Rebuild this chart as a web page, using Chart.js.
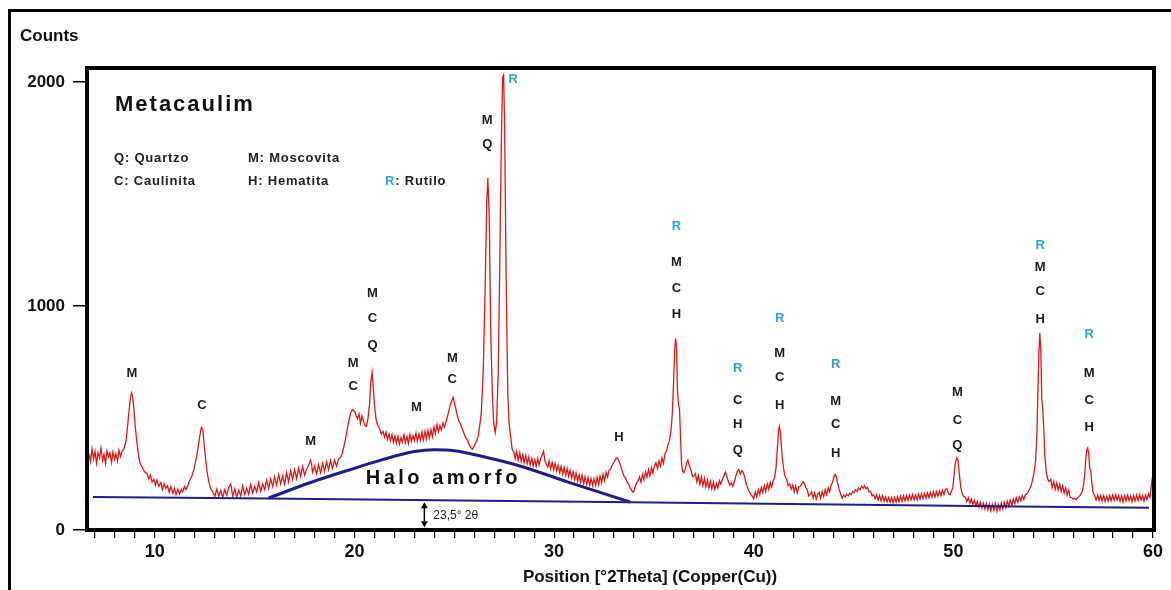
<!DOCTYPE html>
<html lang="pt">
<head>
<meta charset="UTF-8">
<title>Metacaulim - DRX</title>
<script src="https://cdn.jsdelivr.net/npm/chart.js"></script>
<style>
  html, body { margin: 0; padding: 0; background: #fff; overflow: hidden; }
  #moldura { position: absolute; left: 8px; top: 9px; width: 1400px; height: 800px; border: 3px solid #000; }
  #grafico { position: absolute; left: 0; top: 0; }
</style>
</head>
<body>
<div id="moldura"></div>
<canvas id="grafico" width="1171" height="590"></canvas>
<script>
const scanA = [[6.7,340],[6.78,305],[6.85,362],[6.93,318],[7.0,350],[7.08,298],[7.15,345],[7.23,322],[7.3,366],[7.38,310],[7.45,338],[7.53,296],[7.6,352],[7.68,326],[7.75,344],[7.83,302],[7.9,348],[7.98,315],[8.05,341],[8.13,308],[8.2,356],[8.28,328],[8.35,350],[8.45,362],[8.55,395],[8.62,450],[8.7,530],[8.77,585],[8.83,612],[8.88,600],[8.95,540],[9.02,460],[9.1,390],[9.18,335],[9.25,300],[9.33,285],[9.42,270],[9.5,258],[9.6,252],[9.7,228],[9.78,246],[9.86,214],[9.95,226],[10.03,200],[10.1,224],[10.2,195],[10.3,212],[10.38,180],[10.46,206],[10.55,186],[10.63,198],[10.72,168],[10.8,194],[10.9,164],[10.98,186],[11.06,158],[11.15,182],[11.24,160],[11.32,180],[11.4,170],[11.48,194],[11.56,180],[11.65,198],[11.75,222],[11.85,240],[11.95,268],[12.05,310],[12.15,360],[12.25,420],[12.33,458],[12.4,448],[12.47,380],[12.55,310],[12.63,250],[12.72,208],[12.8,184],[12.9,170]];
const scanB = [[13.0,150],[13.1,182],[13.2,152],[13.3,176],[13.4,146],[13.5,180],[13.6,155],[13.7,190],[13.8,205],[13.9,150],[14.0,184],[14.1,148],[14.2,178],[14.3,152],[14.4,196],[14.5,158],[14.6,186],[14.7,160],[14.8,204],[14.9,165],[15.0,195],[15.1,170],[15.2,212],[15.3,174],[15.4,206],[15.5,180],[15.6,222],[15.7,186],[15.8,228],[15.9,194],[16.0,236],[16.1,200],[16.2,248],[16.3,206],[16.4,242],[16.5,204],[16.6,256],[16.7,215],[16.8,265],[16.9,226],[17.0,270],[17.1,230],[17.2,276],[17.3,238],[17.4,284],[17.5,245],[17.6,270],[17.7,290],[17.8,312],[17.85,292],[17.9,258],[18.0,284],[18.1,250],[18.2,292],[18.3,255],[18.4,298],[18.5,262],[18.6,305],[18.7,270],[18.8,310],[18.9,275],[19.0,312],[19.1,285],[19.2,318],[19.3,322],[19.4,345],[19.5,385],[19.6,430],[19.7,480],[19.8,520],[19.9,538]];
const scanC = [[20.0,530],[20.08,512],[20.15,496],[20.23,518],[20.3,476],[20.38,508],[20.45,486],[20.53,466],[20.6,462],[20.68,500],[20.75,560],[20.82,660],[20.88,702],[20.94,640],[21.0,560],[21.07,500],[21.13,475],[21.2,462],[21.28,446],[21.35,428],[21.43,440],[21.5,415],[21.58,436],[21.65,404],[21.73,428],[21.8,398],[21.88,425],[21.95,392],[22.03,420],[22.1,388],[22.18,418],[22.25,384],[22.33,412],[22.4,392],[22.48,425],[22.55,390],[22.63,418],[22.7,386],[22.78,426],[22.85,396],[22.93,420],[23.0,398],[23.08,432],[23.15,396],[23.23,428],[23.3,400],[23.38,436],[23.45,402],[23.53,440],[23.6,406],[23.68,444],[23.75,410],[23.83,448],[23.9,416],[23.98,460],[24.05,430],[24.13,470],[24.2,438],[24.28,466],[24.35,446],[24.43,478],[24.5,458],[24.58,482],[24.65,505],[24.73,532],[24.8,560],[24.87,575],[24.94,592],[25.0,570],[25.08,540],[25.15,510],[25.23,488],[25.3,475],[25.38,455],[25.45,440],[25.53,420],[25.6,408],[25.68,398],[25.75,380],[25.83,368],[25.9,360],[25.97,370],[26.05,385],[26.13,400],[26.2,420],[26.28,470],[26.35,520]];
const scanD = [[26.45,714],[26.55,1100],[26.62,1450],[26.68,1571],[26.75,1400],[26.82,900],[26.9,620],[26.97,480],[27.05,435],[27.12,480],[27.2,700],[27.28,1200],[27.35,1700],[27.42,2020],[27.47,2031],[27.52,1800],[27.6,1100],[27.68,600],[27.75,470],[27.83,410],[27.9,360],[27.97,350],[28.05,318],[28.12,352],[28.2,312],[28.28,345],[28.35,306],[28.43,336],[28.5,300],[28.58,332],[28.65,296],[28.73,326],[28.8,290],[28.88,320],[28.95,286],[29.03,314],[29.1,284],[29.18,318],[29.25,290],[29.33,322],[29.4,335],[29.47,352],[29.53,312],[29.6,296],[29.68,280],[29.75,308],[29.83,272],[29.9,302],[29.98,268],[30.05,296],[30.13,262],[30.2,290],[30.28,256],[30.35,284],[30.43,250],[30.5,280],[30.58,244],[30.65,274],[30.73,238],[30.8,266],[30.88,232],[30.95,260],[31.03,224],[31.1,254],[31.18,218],[31.25,246],[31.33,212],[31.4,244],[31.48,206],[31.55,238],[31.63,204],[31.7,234],[31.78,200],[31.85,230],[31.93,198],[32.0,228],[32.08,200],[32.15,234],[32.23,202],[32.3,240],[32.38,212],[32.45,248],[32.53,220],[32.6,258],[32.68,236],[32.75,268],[32.83,270],[32.9,288],[32.98,300],[33.05,312],[33.12,322],[33.2,318],[33.28,300],[33.35,280],[33.43,258],[33.5,240],[33.58,232],[33.65,215],[33.73,205],[33.8,190],[33.88,178],[33.95,168],[34.0,172]];
const scanE = [[34.05,190],[34.12,208],[34.2,218],[34.28,238],[34.35,214],[34.43,248],[34.5,224],[34.58,260],[34.65,236],[34.73,270],[34.8,242],[34.88,278],[34.95,254],[35.03,288],[35.1,300],[35.18,274],[35.25,308],[35.33,284],[35.4,322],[35.48,298],[35.55,338],[35.63,352],[35.7,380],[35.78,400],[35.85,440],[35.92,520],[35.98,650],[36.03,790],[36.08,855],[36.13,820],[36.18,620],[36.23,560],[36.28,540],[36.33,420],[36.38,300],[36.43,262],[36.5,255],[36.58,275],[36.65,300],[36.7,312],[36.78,285],[36.85,270],[36.93,238],[37.0,240],[37.08,252],[37.15,214],[37.23,244],[37.3,204],[37.38,236],[37.45,198],[37.53,230],[37.6,192],[37.68,222],[37.75,188],[37.83,218],[37.9,184],[37.98,212],[38.05,182],[38.13,208],[38.2,188],[38.28,220],[38.35,205],[38.43,225],[38.5,240],[38.58,258],[38.65,240],[38.73,215],[38.8,200],[38.88,210],[38.95,195],[39.03,215],[39.1,240],[39.18,262],[39.25,270],[39.32,250],[39.4,265],[39.47,258],[39.55,235],[39.62,205],[39.7,185],[39.78,170],[39.85,160],[39.93,150],[40.0,140],[40.08,170],[40.15,148],[40.23,180],[40.3,158],[40.38,190],[40.45,168],[40.53,198],[40.6,172],[40.68,206],[40.75,182],[40.83,212],[40.9,192],[40.98,222],[41.05,235],[41.12,280],[41.18,360],[41.23,430],[41.28,462],[41.33,440],[41.38,380],[41.43,320],[41.5,270],[41.57,240],[41.65,226],[41.72,198],[41.8,206],[41.88,182],[41.95,200],[42.03,170],[42.1,196],[42.18,166],[42.25,192],[42.33,195],[42.4,205],[42.47,215],[42.53,210],[42.6,190],[42.68,180],[42.75,152],[42.83,160],[42.9,170],[42.98,142],[43.05,166],[43.13,138],[43.2,160],[43.28,168],[43.35,142],[43.43,172],[43.5,150],[43.58,180],[43.65,158],[43.73,188],[43.8,170],[43.88,200],[43.95,215],[44.02,238],[44.08,248],[44.13,240],[44.2,212],[44.28,180],[44.35,162],[44.43,142],[44.5,156],[44.58,148],[44.65,160],[44.73,152],[44.8,164],[44.88,158],[44.95,172],[45.03,166],[45.1,180],[45.18,172],[45.25,188],[45.33,180],[45.4,196],[45.48,186],[45.55,198],[45.63,184],[45.7,190],[45.78,170],[45.85,172],[45.93,152],[46.0,158]];
const scanF = [[46.08,140],[46.15,158],[46.23,134],[46.3,154],[46.38,130],[46.45,152],[46.53,128],[46.6,148],[46.68,126],[46.75,146],[46.83,124],[46.9,144],[46.98,122],[47.05,146],[47.13,124],[47.2,148],[47.28,126],[47.35,151],[47.43,128],[47.5,152],[47.58,130],[47.65,154],[47.73,132],[47.8,156],[47.88,134],[47.95,158],[48.03,136],[48.1,156],[48.18,134],[48.25,160],[48.33,138],[48.4,162],[48.48,140],[48.55,164],[48.63,142],[48.7,166],[48.78,144],[48.85,168],[48.93,146],[49.0,170],[49.08,148],[49.15,172],[49.23,152],[49.3,174],[49.38,154],[49.45,178],[49.53,158],[49.6,182],[49.68,184],[49.75,164],[49.83,156],[49.9,172],[49.97,188],[50.03,240],[50.1,300],[50.17,322],[50.23,310],[50.3,250],[50.37,190],[50.45,160],[50.52,150],[50.6,146],[50.67,126],[50.75,144],[50.83,120],[50.9,138],[50.98,114],[51.05,132],[51.13,108],[51.2,128],[51.28,102],[51.35,124],[51.43,98],[51.5,120],[51.58,94],[51.65,118],[51.73,90],[51.8,116],[51.88,86],[51.95,114],[52.03,88],[52.1,118],[52.18,84],[52.25,114],[52.33,90],[52.4,120],[52.48,94],[52.55,124],[52.63,100],[52.7,128],[52.78,106],[52.85,134],[52.93,112],[53.0,138],[53.08,118],[53.15,144],[53.23,124],[53.3,148],[53.38,130],[53.45,154],[53.53,136],[53.6,156],[53.68,160],[53.75,172],[53.83,185],[53.9,200],[53.97,225],[54.05,260],[54.12,310],[54.18,420],[54.23,600],[54.28,780],[54.33,880],[54.38,800],[54.43,580],[54.48,540],[54.53,450],[54.58,330],[54.65,262],[54.72,228],[54.8,216],[54.88,226],[54.95,190],[55.03,216],[55.1,182],[55.18,210],[55.25,178],[55.33,204],[55.4,172],[55.48,198],[55.55,164],[55.63,188],[55.7,156],[55.78,178],[55.85,146],[55.93,145],[56.0,138],[56.08,142],[56.15,136],[56.23,145],[56.3,150],[56.38,158],[56.45,172],[56.52,198],[56.58,250],[56.63,310],[56.68,355],[56.73,366],[56.78,340],[56.83,272],[56.88,268],[56.93,215],[57.0,165],[57.08,152],[57.15,134],[57.23,156],[57.3,132],[57.38,154],[57.45,130],[57.53,152],[57.6,128],[57.68,151],[57.75,129],[57.83,154],[57.9,131],[57.98,156],[58.05,133],[58.13,158],[58.2,134],[58.28,154],[58.35,128],[58.43,152],[58.5,126],[58.58,154],[58.65,130],[58.73,156],[58.8,132],[58.88,152],[58.95,126],[59.03,154],[59.1,130],[59.18,156],[59.25,132],[59.33,158],[59.4,134],[59.48,154],[59.55,130],[59.63,156],[59.7,136],[59.78,162],[59.85,146],[59.92,200],[59.98,240]];

// linha de base e halo amorfo (azul)
const linhaBase = [[6.9,147],[15.7,141],[33.8,124],[54.4,104],[59.8,99]];
const haloAmorfo = [[15.7,143],[17.8,212],[19.8,270],[21.4,314],[23.0,350],[24.0,358],[25.0,354],[26.4,328],[28.2,288],[30.7,214],[33.8,125]];

// rotulos das fases (posicao 2theta, contagem, letra)
const rotulosFases = [
  [8.85,700,'M'], [12.36,558,'C'], [17.8,397,'M'],
  [19.93,745,'M'], [19.93,643,'C'],
  [20.9,1058,'M'], [20.9,946,'C'], [20.9,826,'Q'],
  [23.1,545,'M'], [24.9,768,'M'], [24.9,670,'C'],
  [26.65,1830,'M'], [26.65,1719,'Q'], [27.95,2009,'R'],
  [33.25,415,'H'],
  [36.13,1353,'R'], [36.13,1196,'M'], [36.13,1080,'C'], [36.13,960,'H'],
  [39.2,723,'R'], [39.2,580,'C'], [39.2,473,'H'], [39.2,357,'Q'],
  [41.3,946,'R'], [41.3,790,'M'], [41.3,683,'C'], [41.3,558,'H'],
  [44.1,737,'R'], [44.1,576,'M'], [44.1,469,'C'], [44.1,344,'H'],
  [50.2,612,'M'], [50.2,491,'C'], [50.2,379,'Q'],
  [54.35,1272,'R'], [54.35,1170,'M'], [54.35,1063,'C'], [54.35,942,'H'],
  [56.8,871,'R'], [56.8,701,'M'], [56.8,580,'C'], [56.8,460,'H']
];

const yTicks = [0, 1000, 2000];
const xRotulos = [10, 20, 30, 40, 50, 60];

const FONTE = "'Liberation Sans', Arial, sans-serif";
const AZUL_R = '#2ea3dc';
const AZUL_LINHA = '#1e1e8c';

const varredura = scanA.concat(scanB, scanC, scanD, scanE, scanF);

// textos, moldura e anotacoes
const desenhos = {
  id: 'desenhos',
  afterDatasetsDraw(chart) {
    const { ctx, chartArea: a, scales: { x, y } } = chart;
    ctx.save();

    ctx.strokeStyle = '#000';
    ctx.lineWidth = 4;
    ctx.strokeRect(a.left, a.top, a.right - a.left, a.bottom - a.top);

    ctx.textAlign = 'center';
    ctx.textBaseline = 'middle';
    ctx.font = 'bold 13px ' + FONTE;
    rotulosFases.forEach(([px, py, letra]) => {
      ctx.fillStyle = letra === 'R' ? AZUL_R : '#1b1b1b';
      ctx.fillText(letra, x.getPixelForValue(px), y.getPixelForValue(py));
    });

    // halo amorfo
    ctx.fillStyle = '#111';
    ctx.font = 'bold 20px ' + FONTE;
    ctx.letterSpacing = '3.5px';
    ctx.fillText('Halo amorfo', x.getPixelForValue(24.45), y.getPixelForValue(232));
    ctx.letterSpacing = '0px';

    // seta 23,5
    const xa = x.getPixelForValue(23.5);
    const y1 = y.getPixelForValue(124), y2 = y.getPixelForValue(12);
    ctx.strokeStyle = '#000';
    ctx.lineWidth = 1.5;
    ctx.beginPath(); ctx.moveTo(xa, y1 + 3); ctx.lineTo(xa, y2 - 3); ctx.stroke();
    ctx.fillStyle = '#000';
    ctx.beginPath(); ctx.moveTo(xa, y1); ctx.lineTo(xa - 3.5, y1 + 6); ctx.lineTo(xa + 3.5, y1 + 6); ctx.fill();
    ctx.beginPath(); ctx.moveTo(xa, y2); ctx.lineTo(xa - 3.5, y2 - 6); ctx.lineTo(xa + 3.5, y2 - 6); ctx.fill();
    ctx.textAlign = 'left';
    ctx.font = '12px ' + FONTE;
    ctx.fillStyle = '#222';
    ctx.fillText('23,5\u00b0 2\u03b8', xa + 9, y.getPixelForValue(62));

    // titulo e legenda
    ctx.fillStyle = '#111';
    ctx.font = 'bold 22px ' + FONTE;
    ctx.letterSpacing = '2px';
    ctx.fillText('Metacaulim', 115, 105);
    ctx.font = 'bold 13px ' + FONTE;
    ctx.letterSpacing = '0.8px';
    ctx.fillStyle = '#222';
    ctx.fillText('Q: Quartzo', 114, 158);
    ctx.fillText('M: Moscovita', 248, 158);
    ctx.fillText('C: Caulinita', 114, 181);
    ctx.fillText('H: Hematita', 248, 181);
    ctx.fillStyle = AZUL_R;
    ctx.fillText('R', 385, 181);
    const wR = ctx.measureText('R').width;
    ctx.fillStyle = '#222';
    ctx.fillText(': Rutilo', 385 + wR, 181);
    ctx.letterSpacing = '0px';

    // titulos dos eixos
    ctx.fillStyle = '#111';
    ctx.font = 'bold 17px ' + FONTE;
    ctx.fillText('Counts', 20, 36);
    ctx.textAlign = 'center';
    ctx.fillText('Position [\u00b02Theta] (Copper(Cu))', 650, 577);

    ctx.restore();
  }
};

new Chart(document.getElementById('grafico'), {
  type: 'line',
  data: {
    datasets: [
      { label: 'Halo', data: haloAmorfo, borderColor: AZUL_LINHA, borderWidth: 3, pointRadius: 0, cubicInterpolationMode: 'monotone' },
      { label: 'Base', data: linhaBase, borderColor: AZUL_LINHA, borderWidth: 2, pointRadius: 0, tension: 0 },
      { label: 'Metacaulim', data: varredura, borderColor: 'rgb(226,24,24)', borderWidth: 1.3, pointRadius: 0, tension: 0 }
    ]
  },
  options: {
    responsive: false,
    animation: false,
    devicePixelRatio: 1,
    layout: { padding: { left: 0, top: 68, right: 17, bottom: 0 } },
    plugins: { legend: { display: false }, tooltip: { enabled: false } },
    scales: {
      x: {
        type: 'linear',
        min: 6.6,
        max: 60.05,
        afterFit: s => { s.height = 60; },
        afterBuildTicks: s => {
          const t = [];
          for (let v = 7; v <= 60; v++) t.push({ value: v });
          s.ticks = t;
        },
        border: { display: false },
        grid: { drawOnChartArea: false, drawTicks: true, tickLength: 8, color: '#000', lineWidth: 1.2 },
        ticks: {
          autoSkip: false,
          maxRotation: 0,
          padding: 3,
          color: '#111',
          font: { family: FONTE, size: 18, weight: 'bold' },
          callback: v => xRotulos.includes(v) ? String(v) : ''
        }
      },
      y: {
        min: 0,
        max: 2062,
        afterFit: s => { s.width = 87; },
        afterBuildTicks: s => { s.ticks = yTicks.map(v => ({ value: v })); },
        border: { display: false },
        grid: { drawOnChartArea: false, drawTicks: true, tickLength: 14, color: '#000', lineWidth: 1.5 },
        ticks: {
          padding: 8,
          color: '#111',
          font: { family: FONTE, size: 17, weight: 'bold' },
          callback: v => String(v)
        }
      }
    }
  },
  plugins: [desenhos]
});
</script>
</body>
</html>
